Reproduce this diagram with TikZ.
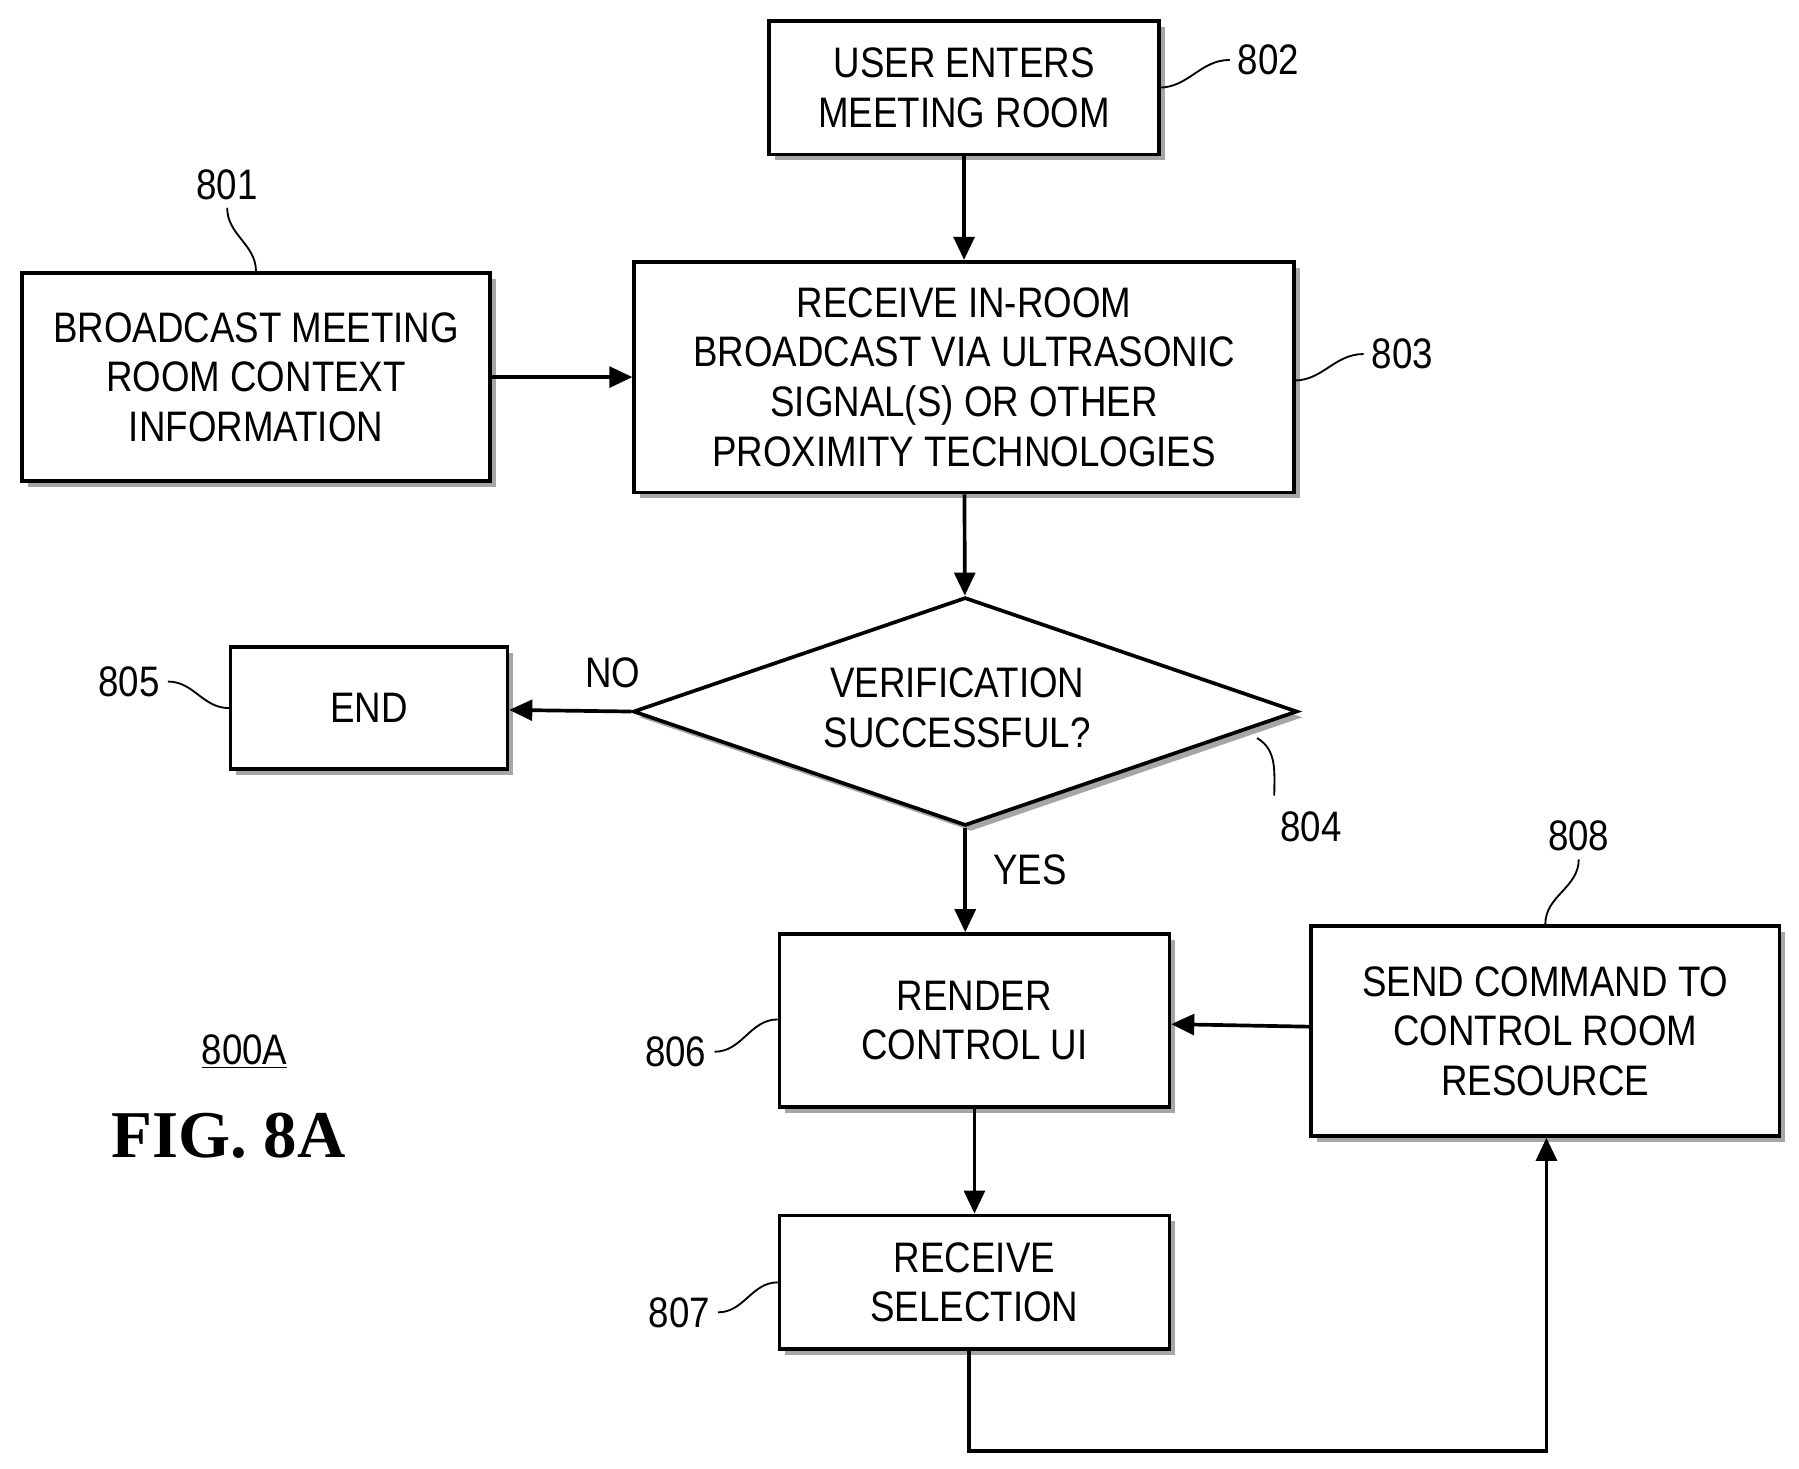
\documentclass[tikz,border=0pt]{standalone}
\usepackage{fontspec}
\setmainfont{Liberation Sans}[FakeStretch=0.86]
\newfontfamily\figfont{Liberation Serif}
\usetikzlibrary{shapes.geometric,shadows,arrows.meta}
\tikzset{
  stage/.style={draw, line width=1.6pt, fill=white, align=center,
    font=\fontsize{18.5}{21.5}\selectfont, inner sep=0pt,
    drop shadow={shadow xshift=2.5pt, shadow yshift=-2.5pt, fill=gray!70, opacity=1}},
  flow/.style={line width=1.6pt, -{Triangle[length=10pt,width=9pt]}},
  tag/.style={font=\fontsize{18.5}{21.5}\selectfont},
  lead/.style={line width=0.8pt}
}
\begin{document}
\begin{tikzpicture}[x=0.5pt,y=-0.5pt]
	\useasboundingbox (0,0) rectangle (1560,1273);
	% boxes
	\node[stage, minimum width=169pt, minimum height=58pt] (enter) at (836,76) {USER ENTERS\\MEETING ROOM};
	\node[stage, minimum width=203pt, minimum height=90pt] (bcast) at (222,327) {BROADCAST MEETING\\ROOM CONTEXT\\INFORMATION};
	\node[stage, minimum width=286pt, minimum height=100pt] (recv) at (836,327) {RECEIVE IN-ROOM\\BROADCAST VIA ULTRASONIC\\SIGNAL(S) OR OTHER\\PROXIMITY TECHNOLOGIES};
	\node[stage, diamond, aspect=2.9, minimum width=288pt, minimum height=99pt] (verify) at (837,617) {};
	\node[tag, align=center] at (830,614) {VERIFICATION\\SUCCESSFUL?};
	\node[stage, minimum width=120pt, minimum height=53pt] (end) at (320,614) {END};
	\node[stage, minimum width=169pt, minimum height=75pt] (render) at (845,885) {RENDER\\CONTROL UI};
	\node[stage, minimum width=169pt, minimum height=58pt] (select) at (845,1112) {RECEIVE\\SELECTION};
	\node[stage, minimum width=203pt, minimum height=91pt] (send) at (1340,894) {SEND COMMAND TO\\CONTROL ROOM\\RESOURCE};
	% connectors
	\draw[flow] (enter) -- (recv);
	\draw[flow] (bcast) -- (recv);
	\draw[flow] (recv) -- (verify);
	\draw[flow] (verify.west) -- (end) node[tag, pos=0.15, above=6pt] {NO};
	\draw[flow] (verify.south) -- (verify.south |- render.north) node[tag, pos=0.4, right=8pt] {YES};
	\draw[flow] (send) -- (render);
	\draw[flow] (render) -- (select);
	\coordinate (loopa) at (840,1258);
	\coordinate (loopb) at (1341,1258);
	\draw[flow] (select.south -| loopa) -- (loopa) -- (loopb) -- (send.south -| loopb);
	% reference numerals
	\node[tag] (n802) at (1100,52) {802};
	\draw[lead] (1005,76) to[out=0,in=180] (n802.west);
	\node[tag] (n801) at (197,160) {801};
	\draw[lead] (bcast.north) to[out=90,in=270] (n801.south);
	\node[tag] (n803) at (1216,307) {803};
	\draw[lead] (1122,330) to[out=0,in=180] (n803.west);
	\node[tag] (n804) at (1137,717) {804};
	\draw[lead] (1090,640) to[out=-30,in=90] (1105,690);
	\node[tag] (n805) at (112,591) {805};
	\draw[lead] (n805.east) to[out=0,in=180] (end.west);
	\node[tag] (n806) at (586,912) {806};
	\draw[lead] (n806.east) to[out=0,in=180] (render.west |- 0,884);
	\node[tag] (n807) at (589,1138) {807};
	\draw[lead] (n807.east) to[out=0,in=180] (select.west |- 0,1112);
	\node[tag] (n808) at (1369,725) {808};
	\draw[lead] (n808.south) to[out=270,in=90] (send.north);
	% figure label
	\node[tag] (fig) at (212,912) {\underline{800A}};
	\node[font=\figfont\bfseries\fontsize{29}{32}\selectfont] (figlab) at (198,985) {FIG. 8A};
\end{tikzpicture}
\end{document}
